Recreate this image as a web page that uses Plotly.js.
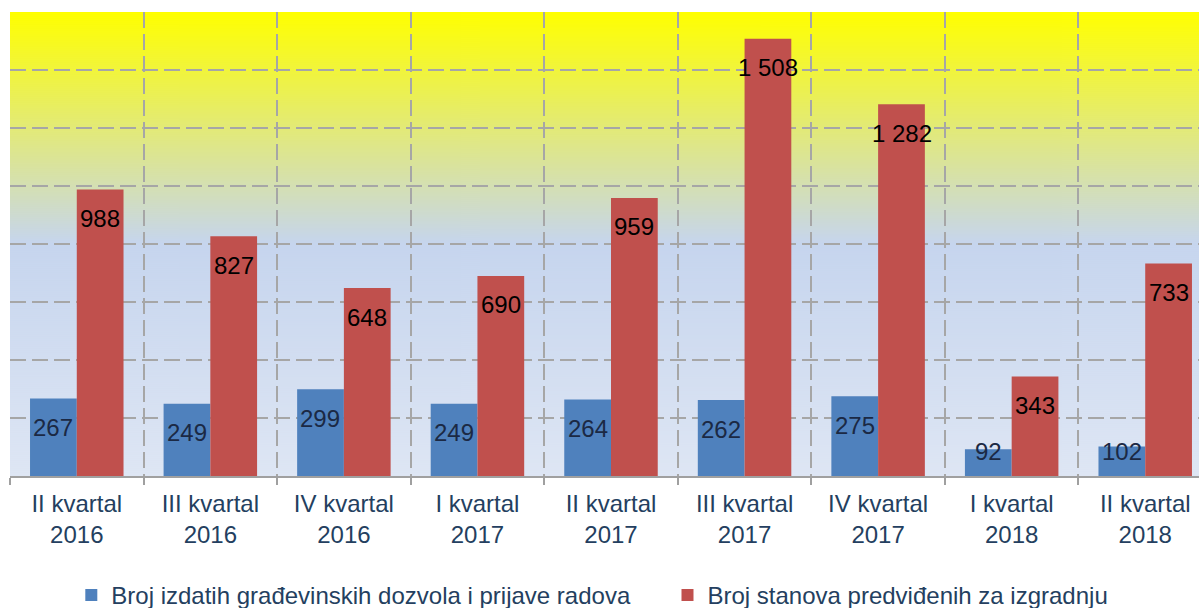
<!DOCTYPE html>
<html>
<head>
<meta charset="utf-8">
<script src="https://cdn.plot.ly/plotly-3.0.1.min.js"></script>
<style>
html,body{margin:0;padding:0;overflow:hidden;background:#fff;}
#chart{width:1212px;height:640px;}
</style>
</head>
<body>
<div id="chart"></div>
<script>
// ---- data ----
const quarters = ['II kvartal','III kvartal','IV kvartal','I kvartal','II kvartal','III kvartal','IV kvartal','I kvartal','II kvartal'];
const years = ['2016','2016','2016','2017','2017','2017','2017','2018','2018'];
const permits = [267, 249, 299, 249, 264, 262, 275, 92, 102];
const flats = [988, 827, 648, 690, 959, 1508, 1282, 343, 733];
const seriesNames = ['Broj izdatih građevinskih dozvola i prijave radova', 'Broj stanova predviđenih za izgradnju'];

const categories = quarters.map((q, i) => q + '<br>' + years[i]);

function fmt(v) {
  return String(v).replace(/\B(?=(\d{3})+(?!\d))/g, ' ');
}

// gradient background image for plot area
function gradientImage() {
  const c = document.createElement('canvas');
  c.width = 4; c.height = 464;
  const g = c.getContext('2d');
  const gr = g.createLinearGradient(0, 0, 0, 464);
  gr.addColorStop(0, '#FFFF00');
  gr.addColorStop(0.5, '#C6D5EE');
  gr.addColorStop(1, '#DEE6F4');
  g.fillStyle = gr;
  g.fillRect(0, 0, 4, 464);
  return c.toDataURL('image/png');
}

const yMax = 1600;
const plotH = 464;
const pxPerUnit = plotH / yMax;

const traces = [
  {type: 'bar', name: seriesNames[0], x: categories, y: permits, marker: {color: '#4F81BD'}, hoverinfo: 'y', legend: 'legend'},
  {type: 'bar', name: seriesNames[1], x: categories, y: flats, marker: {color: '#C0504D'}, hoverinfo: 'y', legend: 'legend2'}
];

const annotations = [];
function addLabels(vals, xshift, color) {
  vals.forEach((v, i) => {
    const barPx = v * pxPerUnit;
    annotations.push({
      x: categories[i], y: v, xref: 'x', yref: 'y',
      text: fmt(v), showarrow: false,
      xshift: xshift, yshift: -Math.min(29, barPx - 25),
      yanchor: 'middle', xanchor: 'center',
      font: {family: '"Liberation Sans", Arial, sans-serif', size: 24, color: color}
    });
  });
}
addLabels(permits, -23.4, '#1B2944');
addLabels(flats, 23.4, '#000000');

const gridColor = '#A6A6A6';
const legendBase = {
  orientation: 'h', xanchor: 'left', y: -0.2087, yanchor: 'top',
  font: {size: 24, color: '#243F60'}, bgcolor: 'rgba(0,0,0,0)'
};

const layout = {
  width: 1212, height: 640,
  margin: {l: 10, r: 0, t: 12, b: 164},
  paper_bgcolor: '#FFFFFF',
  plot_bgcolor: 'rgba(0,0,0,0)',
  barmode: 'group', bargap: 0.3, bargroupgap: 0,
  font: {family: '"Liberation Sans", Arial, sans-serif', size: 24, color: '#243F60'},
  showlegend: true,
  legend: Object.assign({}, legendBase, {x: 0.051}),
  legend2: Object.assign({}, legendBase, {x: 0.547}),
  xaxis: {
    type: 'category', tickson: 'boundaries', automargin: false,
    showgrid: true, gridcolor: gridColor, gridwidth: 2, griddash: '16px,6px',
    showline: true, linecolor: '#A0A0A0', linewidth: 2,
    ticks: 'outside', ticklen: 7, tickwidth: 2, tickcolor: '#A0A0A0',
    ticklabelstandoff: 5,
    tickfont: {size: 24, color: '#243F60'},
    fixedrange: true
  },
  yaxis: {
    range: [0, yMax], dtick: 200, tick0: 0, automargin: false,
    showgrid: true, gridcolor: gridColor, gridwidth: 2, griddash: '16px,6px',
    showticklabels: false, zeroline: false, showline: false, ticks: '',
    fixedrange: true
  },
  images: [{
    source: gradientImage(), xref: 'paper', yref: 'paper',
    x: 0, y: 1, sizex: 1, sizey: 1, sizing: 'stretch', layer: 'below',
    xanchor: 'left', yanchor: 'top'
  }],
  annotations: annotations
};

Plotly.newPlot('chart', traces, layout, {displayModeBar: false, staticPlot: true});
</script>
</body>
</html>
